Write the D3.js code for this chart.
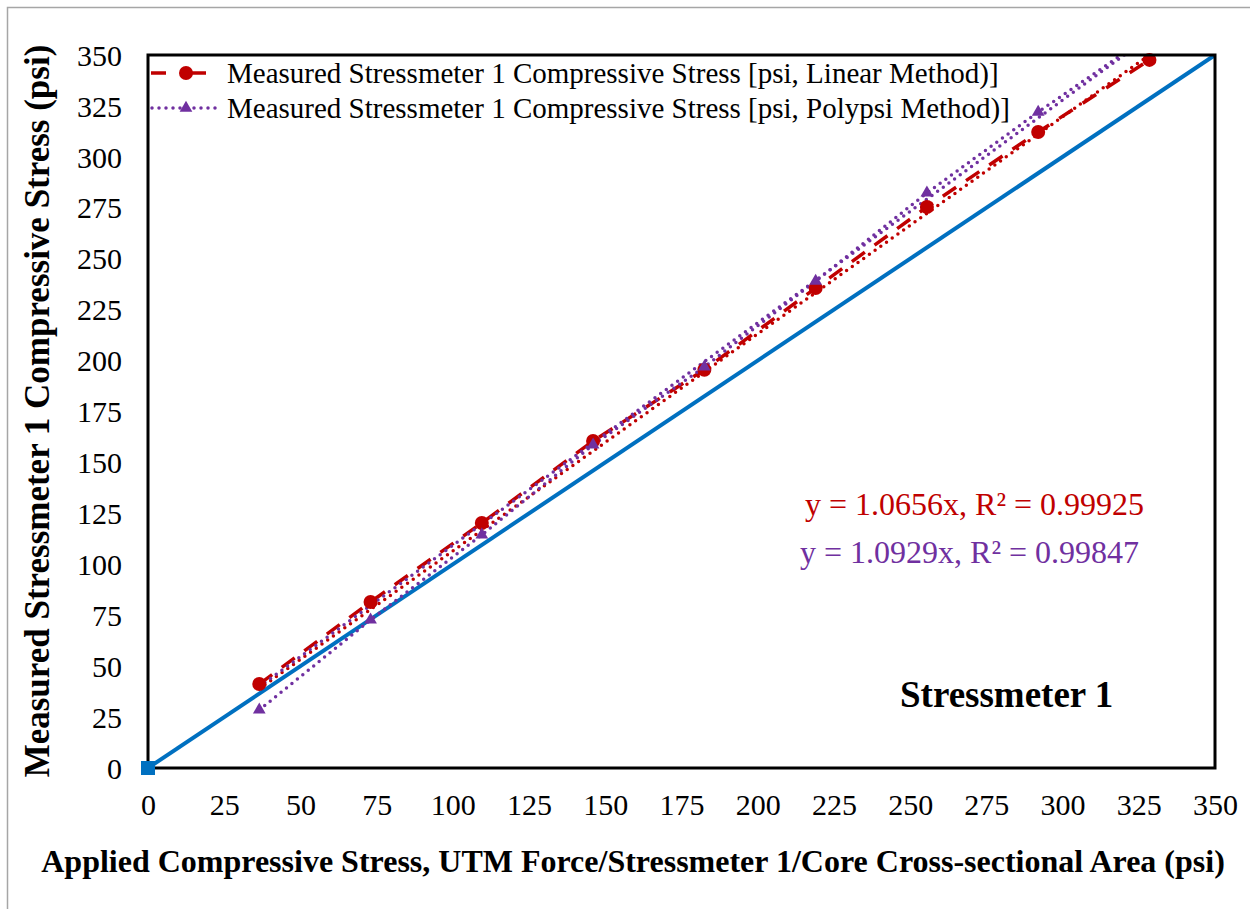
<!DOCTYPE html>
<html>
<head>
<meta charset="utf-8">
<script src="https://cdn.jsdelivr.net/npm/d3@7"></script>
<style>
  html, body { margin: 0; padding: 0; background: #fff; }
  svg { display: block; font-family: "Liberation Serif", "Times New Roman", serif; }
</style>
</head>
<body>
<svg id="chart" width="1250" height="909"></svg>
<script>
// Applied stress (psi) at each load step
const appliedStress = [36.5, 73, 109.5, 146, 182.5, 219, 255.5, 292, 328.5];
// Measured stress, linear calibration method
const linearMeasured = [41.2, 81.5, 120.3, 160.5, 195.5, 235.6, 275.4, 312.2, 347.6];
// Measured stress, Polypsi calibration method
const polypsiMeasured = [28.5, 72.7, 114.4, 158.6, 196.9, 239.0, 282.3, 322.0, 359.5];
// 1:1 reference line end points
const equalityX = [0, 350];
const equalityY = [0, 350];
// Trendline slopes (fit through origin) and R² values
const linearSlope = 1.0656, linearR2 = 0.99925;
const polypsiSlope = 1.0929, polypsiR2 = 0.99847;
// Axis ticks
const xTicks = [0, 25, 50, 75, 100, 125, 150, 175, 200, 225, 250, 275, 300, 325, 350];
const yTicks = [0, 25, 50, 75, 100, 125, 150, 175, 200, 225, 250, 275, 300, 325, 350];
const legendLabels = [
  "Measured Stressmeter 1 Compressive Stress [psi, Linear Method)]",
  "Measured Stressmeter 1 Compressive Stress [psi, Polypsi Method)]"
];

const RED = "#C00000", PURPLE = "#7030A0", BLUE = "#0070C0";
const plot = { left: 148, right: 1215, top: 55, bottom: 768 };

const svg = d3.select("#chart");

// outer chart frame
svg.append("rect").attr("x", 7.5).attr("y", 7.5).attr("width", 1260).attr("height", 920)
  .attr("fill", "#fff").attr("stroke", "#A6A6A6").attr("stroke-width", 1.5);

const x = d3.scaleLinear().domain([0, 350]).range([plot.left, plot.right]);
const y = d3.scaleLinear().domain([0, 350]).range([plot.bottom, plot.top]);

svg.append("defs").append("clipPath").attr("id", "plotClip")
  .append("rect").attr("x", plot.left).attr("y", plot.top - 8)
  .attr("width", plot.right - plot.left + 8).attr("height", plot.bottom - plot.top + 16);
svg.append("defs").append("clipPath").attr("id", "lineClip")
  .append("rect").attr("x", plot.left).attr("y", plot.top)
  .attr("width", plot.right - plot.left).attr("height", plot.bottom - plot.top);

// axes: labels only, no tick marks
const xAxis = d3.axisBottom(x).tickValues(xTicks).tickSize(0).tickPadding(0).tickFormat(d3.format("d"));
const gx = svg.append("g").attr("transform", `translate(0,${plot.bottom})`).call(xAxis);
gx.select(".domain").remove();
gx.selectAll("text").attr("dy", null).attr("y", 47)
  .attr("font-family", "Liberation Serif").attr("font-size", 30).attr("fill", "#000");

const yAxis = d3.axisLeft(y).tickValues(yTicks).tickSize(0).tickPadding(0).tickFormat(d3.format("d"));
const gy = svg.append("g").attr("transform", `translate(${plot.left},0)`).call(yAxis);
gy.select(".domain").remove();
gy.selectAll("text").attr("x", -26).attr("dy", "0.34em")
  .attr("font-family", "Liberation Serif").attr("font-size", 30).attr("fill", "#000");

const lineGen = d3.line().x(d => x(d[0])).y(d => y(d[1]));
const linesG = svg.append("g").attr("clip-path", "url(#lineClip)");
const marksG = svg.append("g").attr("clip-path", "url(#plotClip)");

// 1:1 line
linesG.append("path").datum(d3.zip(equalityX, equalityY)).attr("d", lineGen)
  .attr("fill", "none").attr("stroke", BLUE).attr("stroke-width", 4);

const linearPts = d3.zip(appliedStress, linearMeasured);
const polyPts = d3.zip(appliedStress, polypsiMeasured);
const xMin = d3.min(appliedStress), xMax = d3.max(appliedStress);

// Linear method: dashed series line + dotted trendline
linesG.append("path").datum(linearPts).attr("d", lineGen)
  .attr("fill", "none").attr("stroke", RED).attr("stroke-width", 3.5)
  .attr("stroke-dasharray", "16,12");
linesG.append("path").datum([[xMin, linearSlope * xMin], [xMax, linearSlope * xMax]]).attr("d", lineGen)
  .attr("fill", "none").attr("stroke", RED).attr("stroke-width", 3.5)
  .attr("stroke-dasharray", "0,7").attr("stroke-linecap", "round");

// Polypsi method: dotted series line + dotted trendline
linesG.append("path").datum(polyPts).attr("d", lineGen)
  .attr("fill", "none").attr("stroke", PURPLE).attr("stroke-width", 3.5)
  .attr("stroke-dasharray", "0,7").attr("stroke-linecap", "round");
linesG.append("path").datum([[xMin, polypsiSlope * xMin], [xMax, polypsiSlope * xMax]]).attr("d", lineGen)
  .attr("fill", "none").attr("stroke", PURPLE).attr("stroke-width", 3.5)
  .attr("stroke-dasharray", "0,7").attr("stroke-linecap", "round");

// markers
const tri = d3.symbol().type(d3.symbolTriangle).size(70);
marksG.selectAll(".lin").data(linearPts.filter(d => d[1] <= 350)).join("circle")
  .attr("cx", d => x(d[0])).attr("cy", d => y(d[1])).attr("r", 7).attr("fill", RED);
marksG.selectAll(".poly").data(polyPts.filter(d => d[1] <= 350)).join("path")
  .attr("d", tri).attr("transform", d => `translate(${x(d[0])},${y(d[1])})`).attr("fill", PURPLE);

// plot area frame
svg.append("rect").attr("x", plot.left).attr("y", plot.top)
  .attr("width", plot.right - plot.left).attr("height", plot.bottom - plot.top)
  .attr("fill", "none").attr("stroke", "#000").attr("stroke-width", 3);
// origin marker of the 1:1 line, above the frame
svg.append("rect").attr("x", x(equalityX[0]) - 7).attr("y", y(equalityY[0]) - 7)
  .attr("width", 14).attr("height", 14).attr("fill", BLUE);

// legend
const legend = svg.append("g");
const legRows = [73, 108];
legend.append("line").attr("x1", 151).attr("x2", 221).attr("y1", legRows[0]).attr("y2", legRows[0])
  .attr("stroke", RED).attr("stroke-width", 3.5).attr("stroke-dasharray", "15,25");
legend.append("circle").attr("cx", 186).attr("cy", legRows[0]).attr("r", 7).attr("fill", RED);
legend.append("line").attr("x1", 152).attr("x2", 220).attr("y1", legRows[1]).attr("y2", legRows[1])
  .attr("stroke", PURPLE).attr("stroke-width", 3.5).attr("stroke-dasharray", "0,7").attr("stroke-linecap", "round");
legend.append("path").attr("d", tri).attr("transform", `translate(186,${legRows[1]})`).attr("fill", PURPLE);
legend.selectAll("text.leg").data(legendLabels).join("text")
  .attr("x", 227).attr("y", (d, i) => legRows[i]).attr("dy", "0.34em")
  .attr("font-size", 29).attr("fill", "#000").text(d => d);

// trendline equations
svg.append("text").attr("x", 805).attr("y", 515).attr("font-size", 32).attr("fill", RED)
  .text(`y = ${linearSlope}x, R² = ${linearR2}`);
svg.append("text").attr("x", 800).attr("y", 563).attr("font-size", 32).attr("fill", PURPLE)
  .text(`y = ${polypsiSlope}x, R² = ${polypsiR2}`);

// panel label
svg.append("text").attr("x", 900).attr("y", 707).attr("font-size", 37).attr("font-weight", "bold")
  .attr("fill", "#000").text("Stressmeter 1");

// axis titles
svg.append("text").attr("x", 633).attr("y", 872).attr("text-anchor", "middle")
  .attr("font-size", 32).attr("font-weight", "bold").attr("fill", "#000")
  .text("Applied Compressive Stress, UTM Force/Stressmeter 1/Core Cross-sectional Area (psi)");
svg.append("text").attr("transform", "translate(49,411) rotate(-90)").attr("text-anchor", "middle")
  .attr("font-size", 35).attr("font-weight", "bold").attr("fill", "#000")
  .text("Measured Stressmeter 1 Compressive Stress (psi)");
</script>
</body>
</html>
